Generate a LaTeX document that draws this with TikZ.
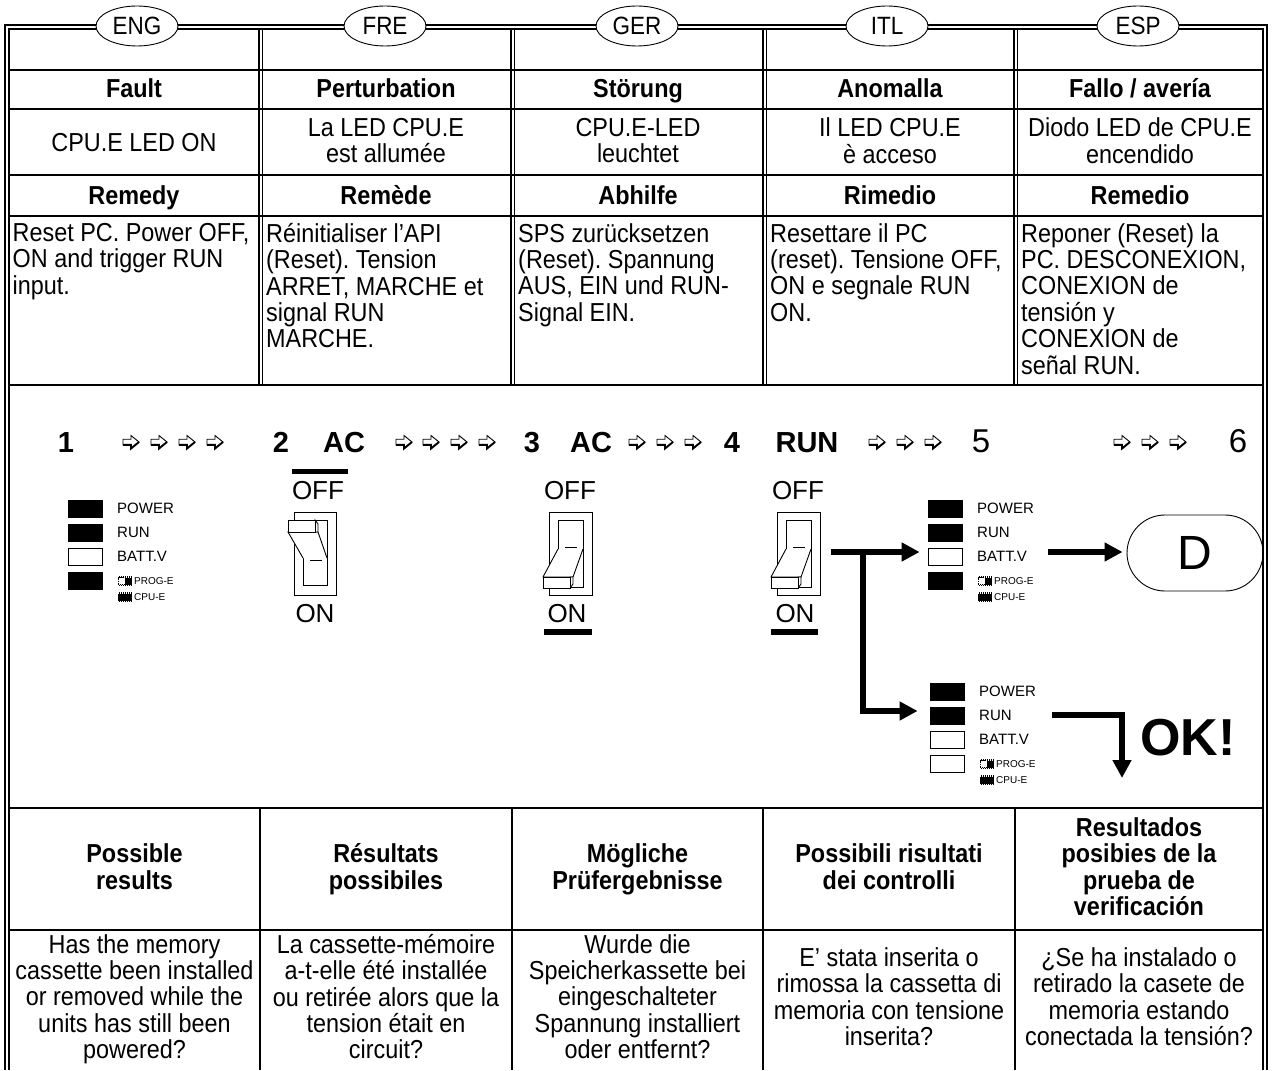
\documentclass[tikz,border=0pt]{standalone}
\usepackage{fontspec}
\setmainfont{Liberation Sans}
\newfontfamily\narrowfont{Liberation Sans}[FakeStretch=0.9]
\usetikzlibrary{shapes.geometric,arrows.meta}
\frenchspacing
\newcommand\tstrut{\rule{0pt}{23pt}}
\newcommand\bstrut{\rule[-8pt]{0pt}{8pt}}

\newcommand\ledpanel[7]{%
  \node[led,fill=#4] (#3a) at (#1+17,#2+8.5) {};
  \node[led,fill=#5] (#3b) at (#1+17,#2+32.5) {};
  \node[led,fill=#6] (#3c) at (#1+17,#2+56.5) {};
  \node[led,fill=#7] (#3d) at (#1+17,#2+80.5) {};
  \node[ledlbl] (#3pw) at (#1+49,#2+8.5) {POWER};
  \node[ledlbl] (#3rn) at (#1+49,#2+32.5) {RUN};
  \node[ledlbl] (#3bv) at (#1+49,#2+56.5) {BATT.V};
  \pic at (#1+57,#2+81) {chiphalf};
  \pic at (#1+57,#2+97) {chipfull};
  \node[smlbl] (#3pe) at (#1+66,#2+81) {PROG-E};
  \node[smlbl] (#3ce) at (#1+66,#2+97) {CPU-E};
}

\begin{document}
\begin{tikzpicture}[x=1pt,y=-1pt,
  frame/.style={line width=1.1pt},
  grid/.style={line width=1.1pt},
  bodytxt/.style={font=\narrowfont\fontsize{26}{26.4}\selectfont, inner sep=0pt, align=center,
     execute at begin node=\tstrut, execute at end node=\bstrut},
  boldtxt/.style={font=\narrowfont\fontsize{26}{26.4}\selectfont\bfseries, inner sep=0pt, align=center,
     execute at begin node=\tstrut, execute at end node=\bstrut},
  lefttxt/.style={font=\narrowfont\fontsize{26}{26.4}\selectfont, inner sep=0pt, align=left, anchor=north west,
     execute at begin node=\tstrut},
  lang/.style={ellipse, draw, line width=0.9pt, fill=white, minimum width=82pt, minimum height=40pt, inner sep=0pt, font=\narrowfont\fontsize{25}{26}\selectfont},
  stepnum/.style={font=\fontsize{29}{30}\selectfont\bfseries, inner sep=0pt, anchor=base},
  stepthin/.style={font=\fontsize{33}{34}\selectfont, inner sep=0pt, anchor=base},
  swlbl/.style={font=\fontsize{26}{28}\selectfont, inner sep=0pt},
  led/.style={draw, line width=0.8pt, minimum width=34pt, minimum height=17pt, inner sep=0pt},
  ledlbl/.style={font=\fontsize{15}{16}\selectfont, inner sep=0pt, anchor=west},
  smlbl/.style={font=\fontsize{10}{11}\selectfont, inner sep=0pt, anchor=west},
  thk/.style={line width=6pt, line join=miter, -{Triangle[length=18pt,width=18pt]}},
  sw/.style={line width=0.9pt, line join=miter},
  harrow/.pic={
    \draw[line width=0.9pt, fill=white, line join=miter] (-8,-2.8) -- (0,-2.8) -- (0,-6.5) -- (8,0) -- (0,6.5) -- (0,2.8) -- (-8,2.8) -- cycle;
    \draw[line width=1.9pt, line join=miter] (-8,2.8) -- (0,2.8) -- (0,6.5) -- (8,0);
  },
  chiphalf/.pic={
    \draw[line width=0.6pt, dash pattern=on 1pt off 0.8pt] (-7,-3.5) rectangle (0,3.5);
    \fill (0,-3.5) rectangle (7,3.5);
    \foreach \i in {-6,-4,...,6} {\draw[line width=0.6pt] (\i,-5) -- (\i,-3.5) (\i,3.5) -- (\i,5);}
  },
  chipfull/.pic={
    \fill (-7,-3.5) rectangle (7,3.5);
    \foreach \i in {-6,-4,...,6} {\draw[line width=0.6pt] (\i,-5) -- (\i,-3.5) (\i,3.5) -- (\i,5);}
  },
  swdown/.pic={
    \draw[sw] (0,0) rectangle (43,83);
    \filldraw[sw,fill=white] (9,8) rectangle (34,75);
    \draw[sw] (16,35) -- (28,35);
    \filldraw[sw,fill=white] (9,37) -- (-6,65) -- (24,65) -- (34,37);
    \filldraw[sw,fill=white] (21,65) -- (24,65) -- (24,72) -- (21,76) -- cycle;
    \filldraw[sw,fill=white] (-6,65) rectangle (21,76);
  },
  swup/.pic={
    \draw[sw] (0,0) rectangle (42,83);
    \filldraw[sw,fill=white] (9,8) rectangle (33,73);
    \draw[sw] (16,48) -- (28,48);
    \filldraw[sw,fill=white] (9,46) -- (-6,20) -- (24,20) -- (33,46);
    \filldraw[sw,fill=white] (21,20) -- (24,20) -- (24,12) -- (21,8) -- cycle;
    \filldraw[sw,fill=white] (-6,8) rectangle (21,20);
  },
]
\fill[white] (0,0) rectangle (1273,1070);
\useasboundingbox (0,0) rectangle (1273,1070);

% frame
\draw[frame] (5,1070) -- (5,25) -- (1267,25) -- (1267,1070);
\draw[frame] (9,1070) -- (9,29) -- (1263,29) -- (1263,1070);
\foreach \x in {259,511,763,1014} {
  \draw[grid] (\x,29) -- (\x,385);
  \draw[grid] (\x+3.5,29) -- (\x+3.5,385);
}
\foreach \y in {70,109,175,216,385,808,930} \draw[grid] (9,\y) -- (1263,\y);
\foreach \x in {260,512,763,1015} \draw[grid] (\x,808) -- (\x,1070);

% language ovals
\node[lang] (oeng) at (137,26) {ENG};
\node[lang] (ofre) at (385,26) {FRE};
\node[lang] (oger) at (637,26) {GER};
\node[lang] (oitl) at (887,26) {ITL};
\node[lang] (oesp) at (1138,26) {ESP};

% fault row
\node[boldtxt] (f1) at (134,90.5) {Fault};
\node[boldtxt] (f2) at (386,90.5) {Perturbation};
\node[boldtxt] (f3) at (638,90.5) {Störung};
\node[boldtxt] (f4) at (890,90.5) {Anomalla};
\node[boldtxt] (f5) at (1140,90.5) {Fallo / avería};

% symptom row
\node[bodytxt] (s1) at (134,143.5) {CPU.E LED ON};
\node[bodytxt] (s2) at (386,144.5) {La LED CPU.E\\est allumée};
\node[bodytxt] (s3) at (638,144.5) {CPU.E-LED\\leuchtet};
\node[bodytxt] (s4) at (890,144.5) {Il LED CPU.E\\è acceso};
\node[bodytxt] (s5) at (1140,144.5) {Diodo LED de CPU.E\\encendido};

% remedy heading
\node[boldtxt] (r1) at (134,197) {Remedy};
\node[boldtxt] (r2) at (386,197) {Remède};
\node[boldtxt] (r3) at (638,197) {Abhilfe};
\node[boldtxt] (r4) at (890,197) {Rimedio};
\node[boldtxt] (r5) at (1140,197) {Remedio};

% remedy text
\node[lefttxt] (m1) at (12.5,223) {Reset PC. Power OFF,\\ON and trigger RUN\\input.};
\node[lefttxt] (m2) at (266,223) {Réinitialiser l’API\\(Reset). Tension\\ARRET, MARCHE et\\signal RUN\\MARCHE.};
\node[lefttxt] (m3) at (518,223) {SPS zurücksetzen\\(Reset). Spannung\\AUS, EIN und RUN-\\Signal EIN.};
\node[lefttxt] (m4) at (770,223) {Resettare il PC\\(reset). Tensione OFF,\\ON e segnale RUN\\ON.};
\node[lefttxt] (m5) at (1021,223) {Reponer (Reset) la\\PC. DESCONEXION,\\CONEXION de\\tensión y\\CONEXION de\\señal RUN.};

% step row
\node[stepnum] (n1) at (66,452) {1};
\foreach \x in {131,159,187,215} \pic at (\x,442) {harrow};
\node[stepnum] (n2) at (281,452) {2};
\node[stepnum] (ac1) at (344,452) {AC};
\foreach \x in {404,431,459,487} \pic at (\x,442) {harrow};
\node[stepnum] (n3) at (532,452) {3};
\node[stepnum] (ac2) at (591,452) {AC};
\foreach \x in {637,665,693} \pic at (\x,442) {harrow};
\node[stepnum] (n4) at (732,452) {4};
\node[stepnum] (run) at (807,452) {RUN};
\foreach \x in {877,905,933} \pic at (\x,442) {harrow};
\node[stepthin] (n5) at (981,452) {5};
\foreach \x in {1122,1150,1178} \pic at (\x,442) {harrow};
\node[stepthin] (n6) at (1238,452) {6};

% LED panels
\ledpanel{68}{500}{pa}{black}{black}{white}{black}
\ledpanel{928}{500}{pb}{black}{black}{white}{black}
\ledpanel{930}{683}{pc}{black}{black}{white}{white}

% switches
\pic at (294,512) {swup};
\node[swlbl] (off2) at (318,491) {OFF};
\node[swlbl] (on2) at (315,614) {ON};
\fill (292,469) rectangle (348,474);

\pic at (549,512) {swdown};
\node[swlbl] (off3) at (570,491) {OFF};
\node[swlbl] (on3) at (567,614) {ON};
\fill (544,629) rectangle (592,635);

\pic at (777,512) {swdown};
\node[swlbl] (off4) at (798,491) {OFF};
\node[swlbl] (on4) at (795,614) {ON};
\fill (771,629) rectangle (818,635);

% result D and OK
\node[draw, line width=0.9pt, rounded corners=38pt, minimum width=136pt, minimum height=76pt, inner sep=0pt, font=\fontsize{48}{50}\selectfont] (D) at (1195,553) {D};
\node[font=\fontsize{52}{54}\selectfont\bfseries, inner sep=0pt] (ok) at (1188,738) {OK!};

% connectors
\coordinate (j0) at (831,552);
\coordinate (j1) at (863,552);
\coordinate (j2) at (863,711);
\draw[thk, shorten >=8pt] (j0) -- (pbc.west |- j0);
\draw[thk, shorten >=12pt] (j1) -- (j2) -- (pcb.west |- j2);
\coordinate (d0) at (1048,552);
\draw[thk, shorten >=4pt] (d0) -- (D.west |- d0);
\coordinate (k0) at (1052,715);
\coordinate (k1) at (1122,715);
\coordinate (k2) at (1122,778);
\draw[thk] (k0) -- (k1) -- (k2);

% bottom headers
\node[boldtxt] (b1) at (134.5,870.5) {Possible\\results};
\node[boldtxt] (b2) at (386,870.5) {Résultats\\possibiles};
\node[boldtxt] (b3) at (637.5,870.5) {Mögliche\\Prüfergebnisse};
\node[boldtxt] (b4) at (889,870.5) {Possibili risultati\\dei controlli};
\node[boldtxt] (b5) at (1139,870.5) {Resultados\\posibies de la\\prueba de\\verificación};

% bottom text
\node[bodytxt] (q1) at (134.5,1000.5) {Has the memory\\cassette been installed\\or removed while the\\units has still been\\powered?};
\node[bodytxt] (q2) at (386,1000.5) {La cassette-mémoire\\a-t-elle été installée\\ou retirée alors que la\\tension était en\\circuit?};
\node[bodytxt] (q3) at (637.5,1000.5) {Wurde die\\Speicherkassette bei\\eingeschalteter\\Spannung installiert\\oder entfernt?};
\node[bodytxt] (q4) at (889,1000.5) {E’ stata inserita o\\rimossa la cassetta di\\memoria con tensione\\inserita?};
\node[bodytxt] (q5) at (1139,1000.5) {¿Se ha instalado o\\retirado la casete de\\memoria estando\\conectada la tensión?};
\end{tikzpicture}
\end{document}
